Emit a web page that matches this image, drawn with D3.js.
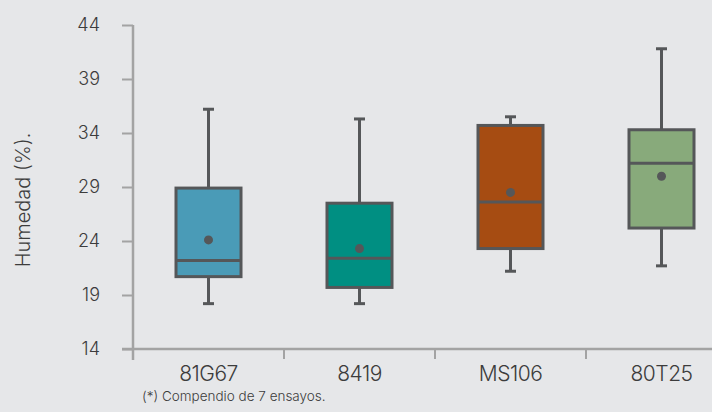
<!DOCTYPE html>
<html>
<head>
<meta charset="utf-8">
<script src="https://cdn.jsdelivr.net/npm/d3@7"></script>
<style>
  html, body { margin: 0; padding: 0; background: #e6e7e9; }
  svg { display: block; }
  text { font-family: Inter, "Open Sans", sans-serif; font-weight: 300; fill: #3c3c3c; }
</style>
</head>
<body>
<div id="chart"></div>
<script>
// hybrids and their summary stats
var hybrids   = ["81G67", "8419", "MS106", "80T25"];
var whiskLow  = [18.2, 18.2, 21.2, 21.7];
var q1        = [20.7, 19.7, 23.3, 25.2];
var medians   = [22.2, 22.4, 27.6, 31.2];
var q3        = [28.9, 27.5, 34.7, 34.3];
var whiskHigh = [36.2, 35.3, 35.5, 41.8];
var means     = [24.1, 23.3, 28.5, 30.0];
var yTicks    = [14, 19, 24, 29, 34, 39, 44];
var boxColors = ["#4a9bb7", "#008f82", "#a64c12", "#88aa7b"];

(function(){
  var W = 712, H = 412;
  var svg = d3.select("#chart").append("svg")
    .attr("width", W).attr("height", H);

  var x = d3.scaleBand().domain(hybrids).range([133, 737]);
  var y = d3.scaleLinear().domain([14, 44]).range([349, 25]);

  var rows = hybrids.map(function(h, i) {
    return {name: h, lo: whiskLow[i], q1: q1[i], med: medians[i], q3: q3[i], hi: whiskHigh[i], mean: means[i], color: boxColors[i]};
  });

  // y axis
  var yAxis = svg.append("g")
    .attr("transform", "translate(133,0)")
    .call(d3.axisLeft(y).tickValues(yTicks).tickSize(11).tickSizeOuter(0).tickPadding(22));
  yAxis.select(".domain").remove();
  yAxis.selectAll(".tick line").attr("stroke", "#a3a3a3").attr("stroke-width", 2);
  yAxis.selectAll(".tick text").style("font-size", "18px").attr("fill", "#3c3c3c");
  yAxis.append("line")
    .attr("x1", 0).attr("x2", 0).attr("y1", y(44)).attr("y2", 360)
    .attr("stroke", "#a3a3a3").attr("stroke-width", 2.5);

  // x axis: line + ticks on band edges
  var xg = svg.append("g");
  xg.append("line")
    .attr("x1", 122).attr("x2", W).attr("y1", y(14)).attr("y2", y(14))
    .attr("stroke", "#a3a3a3").attr("stroke-width", 2.5);
  xg.selectAll(".xt").data(hybrids.slice(1)).join("line")
    .attr("class", "xt")
    .attr("x1", function(d){ return x(d); }).attr("x2", function(d){ return x(d); })
    .attr("y1", y(14)).attr("y2", y(14) + 10)
    .attr("stroke", "#a3a3a3").attr("stroke-width", 2);
  xg.selectAll(".xl").data(hybrids).join("text")
    .attr("class", "xl")
    .attr("x", function(d){ return x(d) + x.bandwidth() / 2; })
    .attr("y", 381)
    .attr("text-anchor", "middle")
    .style("font-size", "21px")
    .style("letter-spacing", "-0.5px")
    .text(function(d){ return d; });

  // y label
  svg.append("text")
    .attr("transform", "translate(30,200) rotate(-90)")
    .attr("text-anchor", "middle")
    .style("font-size", "20px")
    .text("Humedad (%).");

  // footnote
  svg.append("text")
    .attr("x", 142).attr("y", 401)
    .style("font-size", "13.5px")
    .text("(*) Compendio de 7 ensayos.");

  // boxes
  var bw = 65, cap = 11;
  var g = svg.selectAll(".box").data(rows).join("g")
    .attr("class", "box")
    .attr("transform", function(d){ return "translate(" + (x(d.name) + x.bandwidth() / 2) + ",0)"; });

  g.append("line")
    .attr("x1", 0).attr("x2", 0)
    .attr("y1", function(d){ return y(d.hi); }).attr("y2", function(d){ return y(d.lo); })
    .attr("stroke", "#555759").attr("stroke-width", 3);
  g.append("line")
    .attr("x1", -cap / 2).attr("x2", cap / 2)
    .attr("y1", function(d){ return y(d.hi); }).attr("y2", function(d){ return y(d.hi); })
    .attr("stroke", "#555759").attr("stroke-width", 3);
  g.append("line")
    .attr("x1", -cap / 2).attr("x2", cap / 2)
    .attr("y1", function(d){ return y(d.lo); }).attr("y2", function(d){ return y(d.lo); })
    .attr("stroke", "#555759").attr("stroke-width", 3);
  g.append("rect")
    .attr("x", -bw / 2).attr("width", bw)
    .attr("y", function(d){ return y(d.q3); })
    .attr("height", function(d){ return y(d.q1) - y(d.q3); })
    .attr("fill", function(d){ return d.color; })
    .attr("stroke", "#555759").attr("stroke-width", 3);
  g.append("line")
    .attr("x1", -bw / 2).attr("x2", bw / 2)
    .attr("y1", function(d){ return y(d.med); }).attr("y2", function(d){ return y(d.med); })
    .attr("stroke", "#555759").attr("stroke-width", 3);
  g.append("circle")
    .attr("cx", 0).attr("cy", function(d){ return y(d.mean); })
    .attr("r", 4.5).attr("fill", "#555759");
})();
</script>
</body>
</html>
